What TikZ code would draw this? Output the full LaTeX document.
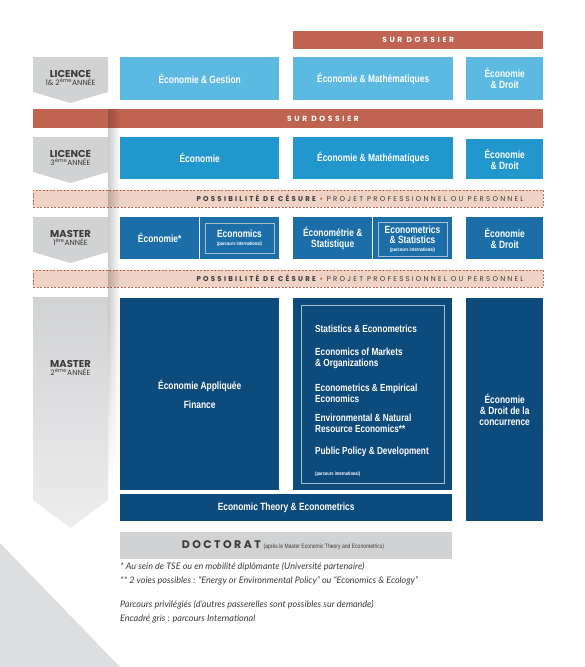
\documentclass[tikz,border=0pt]{standalone}
\usepackage{fontspec}
\setmainfont{Liberation Sans}
\newfontfamily\boxfont{Liberation Sans}[FakeStretch=0.8]
\newfontfamily\labfont{Poppins}
\newfontfamily\spacefont{Poppins}[LetterSpace=35]
\newfontfamily\cesfont{Poppins}[LetterSpace=32]
\newfontfamily\docfont{Poppins}[LetterSpace=22]
\newfontfamily\notefont{Lato}
\usetikzlibrary{fadings}
\definecolor{terra}{RGB}{192,99,80}
\definecolor{peach}{RGB}{238,211,197}
\definecolor{lblue}{RGB}{92,185,225}
\definecolor{mblue}{RGB}{33,151,206}
\definecolor{dblue}{RGB}{27,110,168}
\definecolor{navy}{RGB}{14,75,125}
\definecolor{lgray}{RGB}{209,210,212}
\definecolor{bggray}{RGB}{221,222,224}
\definecolor{txtgray}{RGB}{58,58,58}
\definecolor{outl}{RGB}{169,188,208}
\tikzset{
  blk/.style={inner sep=0pt, text=white, anchor=north west, align=center,
    font=\boxfont\bfseries\fontsize{10.5}{11}\selectfont},
  lst/.style={inner sep=0pt, text=white, anchor=west, align=left,
    font=\boxfont\bfseries\fontsize{10.3}{11}\selectfont},
  tiny/.style={inner sep=0pt, text=white, font=\boxfont\bfseries\fontsize{5}{5.5}\selectfont},
  lab/.style={inner sep=0pt, text=txtgray, align=center,
    font=\labfont\fontsize{7.5}{9}\selectfont},
  inner/.style={draw=outl, line width=0.8pt},
  dashbar/.style={fill=peach, draw=terra, dash pattern=on 2pt off 1.5pt, line width=0.9pt},
  note/.style={inner sep=0pt, anchor=west, text=txtgray,
    font=\notefont\itshape\fontsize{9}{10}\selectfont}
}
\newcommand{\lablbl}[2]{{\fontsize{10}{11}\selectfont\bfseries #1}\\[-0.5pt]#2}
\begin{document}
\begin{tikzpicture}[x=1pt,y=-1pt]
\useasboundingbox (0,0) rectangle (584,667);
% background triangle
\fill[bggray] (0,543) -- (120,667) -- (0,667) -- cycle;
% labels (chevrons)
\fill[lgray] (33,57) -- (108,57) -- (108,92) -- (70.5,103) -- (33,92) -- cycle;
\fill[lgray] (33,137) -- (108,137) -- (108,172) -- (70.5,183) -- (33,172) -- cycle;
\fill[lgray] (33,217) -- (108,217) -- (108,252) -- (70.5,263) -- (33,252) -- cycle;
\shade[top color=lgray, bottom color=lgray!40] (33,297) -- (108,297) -- (108,500) -- (70.5,528) -- (33,500) -- cycle;
\node[lab] (l1) at (70.5,78) {\lablbl{LICENCE}{1\& 2\textsuperscript{ème}ANNÉE}};
\node[lab] (l3) at (70.5,158) {\lablbl{LICENCE}{3\textsuperscript{ème}ANNÉE}};
\node[lab] (m1) at (70.5,238) {\lablbl{MASTER}{1\textsuperscript{ère}ANNÉE}};
\node[lab] (m2) at (70.5,368) {\lablbl{MASTER}{2\textsuperscript{ème}ANNÉE}};
% top bar
\node[fill=terra, minimum width=250pt, minimum height=18pt, inner sep=0pt, anchor=north west] (sd1) at (293,31) {};
\node[text=white, inner sep=0pt, font=\spacefont\bfseries\fontsize{7.5}{8}\selectfont] (sd1t) at (sd1.center) {SUR DOSSIER};
% row 1
\node[blk, fill=lblue, minimum width=159pt, minimum height=43pt] (eg) at (120,57) {Économie \& Gestion};
\node[blk, fill=lblue, minimum width=160pt, minimum height=43pt] (em1) at (293,57) {Économie \& Mathématiques};
\node[blk, fill=lblue, minimum width=77pt, minimum height=43pt] (ed1) at (466,57) {Économie\\\& Droit};
% full bar
\node[fill=terra, minimum width=510pt, minimum height=19pt, inner sep=0pt, anchor=north west] (sd2) at (33,109) {};
\node[text=white, inner sep=0pt, font=\spacefont\bfseries\fontsize{7.5}{8}\selectfont] (sd2t) at (323,118.5) {SUR DOSSIER};
% row 2
\node[blk, fill=mblue, minimum width=159pt, minimum height=42pt] (e3) at (120,137) {Économie};
\node[blk, fill=mblue, minimum width=160pt, minimum height=42pt] (em3) at (293,137) {Économie \& Mathématiques};
\node[blk, fill=mblue, minimum width=77pt, minimum height=40pt] (ed3) at (466,139) {Économie\\\& Droit};
% cesure 1
\node[dashbar, minimum width=510pt, minimum height=17pt, inner sep=0pt, anchor=north west] (c1) at (33,190) {};
\node[text=txtgray, inner sep=0pt, font=\cesfont\fontsize{7}{8}\selectfont] (c1t) at (360,198.5)
  {\bfseries POSSIBILITÉ DE CÉSURE {\color{terra}•} \mdseries PROJET PROFESSIONNEL OU PERSONNEL};
% row 3
\node[blk, fill=dblue, minimum width=79pt, minimum height=42pt] (ea) at (120,217) {Économie*};
\node[blk, fill=dblue, minimum width=79pt, minimum height=42pt] (ecs) at (200,217) {};
\draw[inner] (205,223) rectangle (274,253);
\node[inner sep=0pt, text=white, align=center, font=\boxfont\bfseries\fontsize{10.5}{9}\selectfont] (ecst) at (239.5,238)
  {Economics\\[-1pt]{\fontsize{5}{5.5}\selectfont (parcours international)}};
\node[blk, fill=dblue, minimum width=79pt, minimum height=42pt] (es) at (293,217) {Économétrie \&\\Statistique};
\node[blk, fill=dblue, minimum width=79pt, minimum height=42pt] (ess) at (373,217) {};
\draw[inner] (378,222) rectangle (447,256);
\node[inner sep=0pt, text=white, align=center, font=\boxfont\bfseries\fontsize{10.5}{10}\selectfont] (esst) at (412.5,239)
  {Econometrics\\\& Statistics\\[-2.5pt]{\fontsize{5}{5.5}\selectfont (parcours international)}};
\node[blk, fill=dblue, minimum width=77pt, minimum height=42pt] (edm) at (466,217) {Économie\\\& Droit};
% cesure 2
\node[dashbar, minimum width=510pt, minimum height=17pt, inner sep=0pt, anchor=north west] (c2) at (33,270) {};
\node[text=txtgray, inner sep=0pt, font=\cesfont\fontsize{7}{8}\selectfont] (c2t) at (360,278.5)
  {\bfseries POSSIBILITÉ DE CÉSURE {\color{terra}•} \mdseries PROJET PROFESSIONNEL OU PERSONNEL};
% row 4
\node[blk, fill=navy, minimum width=159pt, minimum height=192pt] (eaf) at (120,298) {Économie Appliquée\\[8pt]Finance};
\node[blk, fill=navy, minimum width=159pt, minimum height=192pt] (mid) at (293,298) {};
\draw[inner] (301,305) rectangle (444,483);
\node[lst] (i1) at (315,329) {Statistics \& Econometrics};
\node[lst] (i2) at (315,358) {Economics of Markets\\\& Organizations};
\node[lst] (i3) at (315,393.5) {Econometrics \& Empirical\\Economics};
\node[lst] (i4) at (315,423) {Environmental \& Natural\\Resource Economics**};
\node[lst] (i5) at (315,452) {Public Policy \& Development};
\node[tiny, anchor=west] (i6) at (315,474) {(parcours international)};
\node[blk, fill=navy, minimum width=77pt, minimum height=223pt] (edc) at (466,298) {Économie\\\& Droit de la\\concurrence};
\node[blk, fill=navy, minimum width=332pt, minimum height=27pt] (ete) at (120,494) {Economic Theory \& Econometrics};
% shadow
\fill[black, opacity=0.2, path fading=east] (108,109) rectangle (120,320);
\foreach \i in {0,...,19}{
  \pgfmathsetmacro{\op}{0.2*(1-\i/20)}
  \fill[black, opacity=\op, path fading=east] (108,320+\i*8) rectangle (120,328+\i*8);
}
% doctorat
\node[fill=lgray, minimum width=332pt, minimum height=27pt, inner sep=0pt, anchor=north west] (doc) at (120,532) {};
\node[inner sep=0pt, text=txtgray] (doct) at (283,545.5)
  {{\docfont\bfseries\fontsize{11}{12}\selectfont DOCTORAT}\ {\boxfont\fontsize{6.3}{7}\selectfont (après le Master Economic Theory and Econometrics)}};
% notes
\node[note] (n1) at (120,567) {* Au sein de TSE ou en mobilité diplômante (Université partenaire)};
\node[note] (n2) at (120,581) {** 2 voies possibles : “Energy or Environmental Policy” ou “Economics \& Ecology”};
\node[note] (n3) at (120,605) {Parcours privilégiés (d’autres passerelles sont possibles sur demande)};
\node[note] (n4) at (120,619) {Encadré gris : parcours International};
\end{tikzpicture}
\end{document}
